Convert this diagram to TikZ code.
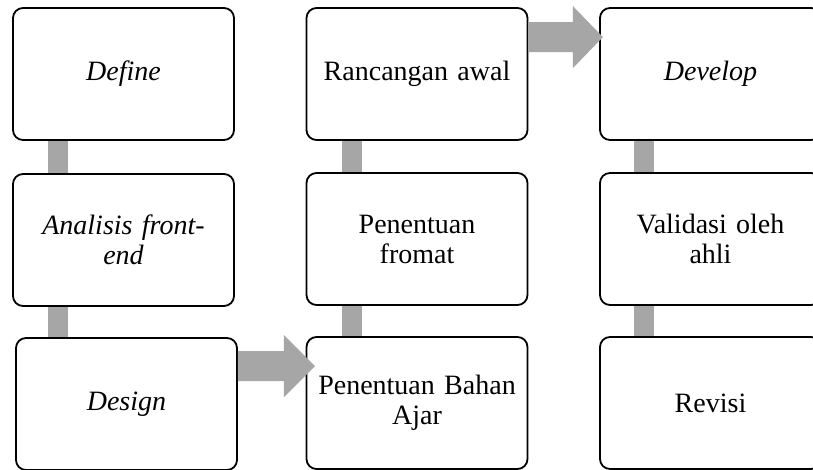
\documentclass[tikz,border=0pt]{standalone}
\usepackage{fontspec}
\setmainfont{Liberation Serif}
\definecolor{conngray}{HTML}{A6A6A6}
\begin{document}
\begin{tikzpicture}[x=1pt,y=-1pt,
  box/.style={draw=black, line width=1.8pt, rounded corners=10pt,
    minimum width=221pt, minimum height=132pt, inner sep=0pt,
    align=center, text width=205pt, fill=white,
    font=\fontsize{28}{30}\selectfont},
  conn/.style={draw=conngray, line width=20pt},
  bigarrow/.style={fill=conngray}]
\clip (0,0) rectangle (813,470);
\fill[white] (0,0) rectangle (813,470);
% column 1
\node[box] (define)   at (123.5,74)  {\itshape Define};
\node[box] (analisis) at (123.5,240) {\itshape Analisis front-\\\itshape end};
\node[box] (design)   at (126.5,404) {\itshape Design};
% column 2
\node[box] (rancangan) at (417,74)  {Rancangan awal};
\node[box] (fromat)    at (417,239) {Penentuan\\fromat};
\node[box] (bahan)     at (417,403) {Penentuan Bahan\\Ajar};
% column 3
\node[box] (develop)  at (710.5,74)  {\itshape Develop};
\node[box] (validasi) at (710.5,239) {Validasi oleh\\ahli};
\node[box] (revisi)   at (710.5,403) {Revisi};
% vertical connectors
\draw[conn] ([xshift=46pt]define.south west) -- ([xshift=46pt]analisis.north west);
\draw[conn] ([xshift=46pt]analisis.south west) -- ([xshift=46pt]analisis.south west |- design.north);
\draw[conn] ([xshift=46pt]rancangan.south west) -- ([xshift=46pt]fromat.north west);
\draw[conn] ([xshift=46pt]fromat.south west) -- ([xshift=46pt]bahan.north west);
\draw[conn] ([xshift=45pt]develop.south west) -- ([xshift=45pt]validasi.north west);
\draw[conn] ([xshift=45pt]validasi.south west) -- ([xshift=45pt]revisi.north west);
% block arrows
\path (design.north east) ++(0,29) coordinate (a1s);
\fill[bigarrow] (a1s) ++(0,-15) -- ++(46,0) -- ++(0,-16) -- ++(31,31) -- ++(-31,31) -- ++(0,-16) -- ++(-46,0) -- cycle;
\path (rancangan.north east) ++(0,30) coordinate (a2s);
\fill[bigarrow] (a2s) ++(0,-15) -- ++(44.5,0) -- ++(0,-16) -- ++(30,31) -- ++(-30,31) -- ++(0,-16) -- ++(-44.5,0) -- cycle;
\end{tikzpicture}
\end{document}
